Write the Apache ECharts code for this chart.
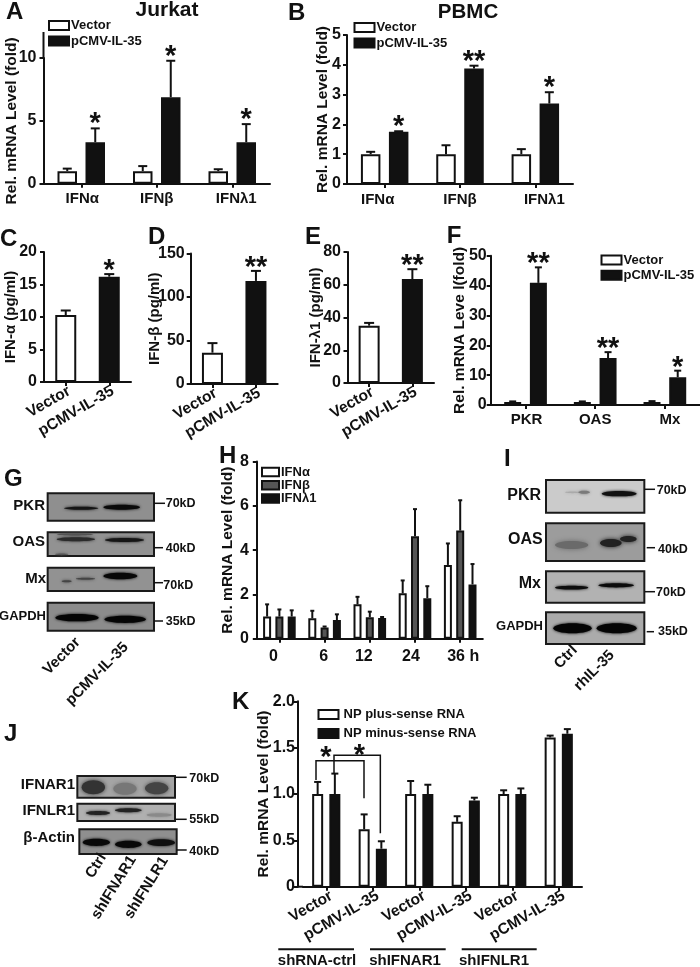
<!DOCTYPE html>
<html><head><meta charset="utf-8">
<style>html,body{margin:0;padding:0;background:#fff}#c{width:700px;height:967px}</style>
<script src="https://cdn.jsdelivr.net/npm/echarts@6/dist/echarts.min.js"></script>
</head><body><div id="c"></div>
<script>
// ---------- DATA ----------
const ifnCats = ['IFNα', 'IFNβ', 'IFNλ1'];
const jurkatVector = [1, 1, 1];
const jurkatVectorErr = [1.2, 1.4, 1.15];
const jurkatIL35 = [3.3, 6.88, 3.3];
const jurkatIL35Err = [4.4, 9.78, 4.74];
const jurkatSig = ['*', '*', '*'];

const pbmcVector = [1, 1, 1];
const pbmcVectorErr = [1.08, 1.3, 1.17];
const pbmcIL35 = [1.75, 3.88, 2.7];
const pbmcIL35Err = [1.77, 3.97, 3.08];
const pbmcSig = ['*', '**', '*'];

const treatCats = ['Vector', 'pCMV-IL-35'];
const ifnAlpha = [10.3, 16.2];
const ifnAlphaErr = [11, 16.6];
const ifnAlphaSig = ['', '*'];
const ifnBeta = [36, 118.5];
const ifnBetaErr = [47, 130];
const ifnBetaSig = ['', '**'];
const ifnLambda = [35, 63.5];
const ifnLambdaErr = [36.7, 69.5];
const ifnLambdaSig = ['', '**'];

const isgCats = ['PKR', 'OAS', 'Mx'];
const isgVector = [1, 1, 1];
const isgVectorErr = [1.2, 1.2, 1.3];
const isgIL35 = [40.9, 15.7, 9.3];
const isgIL35Err = [46.1, 17.7, 11.5];
const isgSig = ['**', '**', '*'];

const hourCats = ['0', '6', '12', '24', '36 h'];
const hourAlpha = [1, 0.92, 1.55, 2.05, 3.33];
const hourAlphaErr = [1.55, 1.26, 1.89, 2.63, 4.3];
const hourBeta = [1, 0.51, 0.97, 4.62, 4.88];
const hourBetaErr = [1.32, 0.55, 1.22, 5.85, 6.25];
const hourLambda = [1, 0.84, 0.93, 1.83, 2.45];
const hourLambdaErr = [1.28, 1.1, 0.98, 2.37, 3.37];

const npCats = ['Vector', 'pCMV-IL-35', 'Vector', 'pCMV-IL-35', 'Vector', 'pCMV-IL-35'];
const npPlus = [1, 0.62, 1, 0.7, 1, 1.61];
const npPlusErr = [1.13, 0.78, 1.14, 0.76, 1.04, 1.63];
const npMinus = [1, 0.41, 1, 0.93, 1, 1.65];
const npMinusErr = [1.22, 0.49, 1.1, 0.96, 1.06, 1.7];

// ---------- BUILDERS ----------
const FONT = '"Liberation Sans", Arial, sans-serif';
const INK = '#111';
const grids = [], xAxes = [], yAxes = [], series = [], legends = [], graphics = [];

function panel(o) {
  const i = grids.length;
  grids.push({ left: o.left, top: o.top, width: o.width, height: o.height, containLabel: false, outerBoundsMode: 'none' });
  const shifts = o.labelShift || [];
  const rich = {};
  o.cats.forEach((c, k) => {
    const s = shifts[k] || 0;
    rich['s' + k] = { fontFamily: FONT, fontWeight: 'bold', fontSize: o.xFont || 15, color: INK,
      padding: s < 0 ? [0, -2 * s, 0, 0] : [0, 0, 0, 2 * s] };
  });
  xAxes.push({
    gridIndex: i, type: 'category', data: o.cats,
    axisLine: { show: true, lineStyle: { color: INK, width: 2 } },
    axisTick: { show: true, alignWithLabel: true, length: 4, lineStyle: { color: INK, width: 2 } },
    axisLabel: { interval: 0, rotate: o.rotate || 0, margin: o.xMargin || 11, color: INK,
      fontFamily: FONT, fontWeight: 'bold', fontSize: o.xFont || 15,
      padding: o.rotate ? [0, -(o.rotPad || 0), 0, 0] : 0,
      formatter: o.rotate ? undefined : (v, k) => '{s' + k + '|' + v + '}', rich: o.rotate ? undefined : rich },
    splitLine: { show: false }
  });
  yAxes.push({
    gridIndex: i, type: 'value', min: 0, max: o.max, interval: o.interval, offset: o.yOffset || 0,
    name: o.name, nameLocation: 'middle', nameGap: o.nameGap, nameRotate: 90, nameMoveOverlap: false,
    nameTextStyle: { color: INK, fontFamily: FONT, fontWeight: 'bold', fontSize: o.nameFont || 15.5 },
    axisLine: { show: true, lineStyle: { color: INK, width: 2 } },
    axisTick: { show: true, length: 4, lineStyle: { color: INK, width: 2 } },
    axisLabel: { margin: o.yMargin, color: INK, fontFamily: FONT, fontWeight: 'bold', fontSize: 16, formatter: o.yFormat },
    splitLine: { show: false }
  });
  return i;
}

function barSet(i, name, values, errs, sigs, color, opt) {
  const idx = opt.index, n = opt.count;
  const offset = (idx - (n - 1) / 2) * opt.pitch;
  series.push({
    type: 'bar', name, xAxisIndex: i, yAxisIndex: i, barWidth: opt.barW,
    barGap: ((opt.pitch - opt.barW) / opt.barW * 100) + '%',
    data: values.map((v, k) => ({
      value: v,
      itemStyle: { color: Array.isArray(color) ? color[k] : color, borderColor: INK, borderWidth: 2 }
    })),
    itemStyle: { color: Array.isArray(color) ? color[0] : color, borderColor: INK, borderWidth: 2 },
    silent: true
  });
  series.push({
    type: 'custom', name: name + ' error', xAxisIndex: i, yAxisIndex: i, silent: true, clip: false, z: 1,
    data: values.map((v, k) => [k, v, errs[k]]),
    renderItem(p, api) {
      const k = api.value(0);
      const x = api.coord([k, 0])[0] + offset;
      const y0 = api.coord([k, api.value(1)])[1];
      const y1 = api.coord([k, api.value(2)])[1];
      const cap = opt.cap / 2;
      const st = { stroke: INK, lineWidth: 2, fill: null };
      const ch = [
        { type: 'line', shape: { x1: x, y1: y0, x2: x, y2: y1 }, style: st },
        { type: 'line', shape: { x1: x - cap, y1: y1, x2: x + cap, y2: y1 }, style: st }
      ];
      const sg = sigs && sigs[p.dataIndex];
      if (sg) ch.push({ type: 'text', style: { text: sg, x, y: y1 - opt.starGap, fill: INK,
        font: 'bold 29px ' + FONT, textAlign: 'center', textVerticalAlign: 'middle' } });
      return { type: 'group', children: ch };
    }
  });
}

function legend(names, left, top, gap, h, w, pad) {
  legends.push({ data: names, orient: 'vertical', left, top, itemWidth: w || 20, itemHeight: h || 9,
    itemGap: gap, icon: 'rect', padding: 0, selectedMode: false,
    textStyle: { color: INK, fontFamily: FONT, fontWeight: 'bold', fontSize: 13, padding: [0, 0, 0, pad === undefined ? -3 : pad] } });
}

function text(t, x, y, size, o) {
  o = o || {};
  graphics.push({ type: 'text', x, y, rotation: o.rot ? o.rot * Math.PI / 180 : 0, z: 20,
    style: { text: t, fill: INK, font: 'bold ' + size + 'px ' + FONT,
      textAlign: o.align || 'left', textVerticalAlign: 'middle' } });
}
function line(pts, w) {
  graphics.push({ type: 'polyline', z: 15, shape: { points: pts },
    style: { stroke: INK, lineWidth: w || 1.5, fill: null } });
}
// Western-blot drawing helpers: coordinates are given in the local 3x sketch space of each blot group.
function blot(ox, oy, zx1, zx2, zy1, zy2, fill) {
  graphics.push({ type: 'rect', z: 5, shape: { x: ox + zx1 / 3, y: oy + zy1 / 3, width: (zx2 - zx1) / 3, height: (zy2 - zy1) / 3 },
    style: { fill, stroke: '#1a1a1a', lineWidth: 2 } });
}
function band(ox, oy, zx1, zx2, zy, zh, col, blur) {
  graphics.push({ type: 'ellipse', z: 6,
    shape: { cx: ox + (zx1 + zx2) / 6, cy: oy + zy / 3, rx: (zx2 - zx1) / 6, ry: zh / 6 },
    style: { fill: col, shadowBlur: blur === undefined ? 3 : blur, shadowColor: col } });
}
function tickLab(t, x1, x2, yl, xt, yt) {
  line([[x1, yl], [x2, yl]], 1.5);
  text(t, xt, yt, 12.5);
}

// ---------- PANELS ----------
// A
let g = panel({ cats: ifnCats, left: 43.5, top: 58, width: 226.5, height: 125.7, max: 10, interval: 5,
  name: 'Rel. mRNA Level (fold)', nameGap: 23.5, yMargin: 7, xMargin: 8, labelShift: [1, 0, 4] });
let oa = { count: 2, pitch: 28, barW: 19.5, cap: 9, starGap: 4 };
barSet(g, 'Vector', jurkatVector, jurkatVectorErr, null, '#fff', { ...oa, index: 0 });
barSet(g, 'pCMV-IL-35', jurkatIL35, jurkatIL35Err, jurkatSig, INK, { ...oa, index: 1 });
legend(['Vector', 'pCMV-IL-35'], 48, 19, 2.5);
line([[43.5, 32], [43.5, 59]], 2);

// B
g = panel({ cats: ifnCats, left: 347, top: 35, width: 226, height: 149, max: 5, interval: 1,
  name: 'Rel. mRNA Level (fold)', nameGap: 16, yMargin: 6, xMargin: 8, labelShift: [-7, 0, 9] });
barSet(g, 'Vector', pbmcVector, pbmcVectorErr, null, '#fff', { ...oa, index: 0 });
barSet(g, 'pCMV-IL-35', pbmcIL35, pbmcIL35Err, pbmcSig, INK, { ...oa, index: 1 });
legend(['Vector', 'pCMV-IL-35'], 353.5, 21, 2.5);

// C, D, E
const two = { index: 0, count: 1, pitch: 0, barW: 21, cap: 10, starGap: 3 };
g = panel({ cats: treatCats, left: 44, top: 252, width: 87, height: 130, max: 20, interval: 5,
  name: 'IFN-α (pg/ml)', nameGap: 25.5, yMargin: 7, rotate: 30, xMargin: 10, nameFont: 15, xFont: 15.5, rotPad: 4 });
barSet(g, 'IFN-α', ifnAlpha, ifnAlphaErr, ifnAlphaSig, ['#fff', INK], two);
g = panel({ cats: treatCats, left: 190.7, top: 253.5, width: 87, height: 130.5, max: 150, interval: 50,
  name: 'IFN-β (pg/ml)', nameGap: 28, yMargin: 6, rotate: 30, xMargin: 10, nameFont: 15, xFont: 15.5, rotPad: 4 });
barSet(g, 'IFN-β', ifnBeta, ifnBetaErr, ifnBetaSig, ['#fff', INK], two);
g = panel({ cats: treatCats, left: 347.5, top: 252, width: 86.5, height: 131, max: 80, interval: 20,
  name: 'IFN-λ1 (pg/ml)', nameGap: 24, yMargin: 6.5, rotate: 30, xMargin: 10, nameFont: 15, xFont: 15.5, rotPad: 4 });
barSet(g, 'IFN-λ1', ifnLambda, ifnLambdaErr, ifnLambdaSig, ['#fff', INK], two);

// F
g = panel({ cats: isgCats, left: 490.7, top: 255.7, width: 209, height: 149.3, max: 50, interval: 10,
  name: 'Rel. mRNA Leve l(fold)', nameGap: 22.7, yMargin: 4, xMargin: 7, labelShift: [1, 0, 5] });
const of = { count: 2, pitch: 25.7, barW: 17, cap: 7, starGap: 3 };
barSet(g, 'Vector', isgVector, isgVectorErr, null, '#fff', { ...of, index: 0 });
barSet(g, 'pCMV-IL-35', isgIL35, isgIL35Err, isgSig, INK, { ...of, index: 1 });
legend(['Vector', 'pCMV-IL-35'], 600.5, 253.5, 2.2);

// H
g = panel({ cats: hourCats, left: 256.8, top: 461.5, width: 226, height: 177.2, max: 8, interval: 2,
  name: 'Rel. mRNA Level (fold)', nameGap: 21, yMargin: 8, labelShift: [-6, -1, -6, -4, 3], xMargin: 10, xFont: 16 });
const oh = { count: 3, pitch: 12.3, barW: 8, cap: 4, starGap: 0 };
barSet(g, 'IFNα', hourAlpha, hourAlphaErr, null, '#fff', { ...oh, index: 0 });
barSet(g, 'IFNβ', hourBeta, hourBetaErr, null, '#555', { ...oh, index: 1 });
barSet(g, 'IFNλ1', hourLambda, hourLambdaErr, null, INK, { ...oh, index: 2 });
legend(['IFNα', 'IFNβ', 'IFNλ1'], 261, 465.5, 0.2, 8.5, 17);

// K
g = panel({ cats: npCats, left: 303, top: 701.3, width: 279, height: 185.4, max: 2, interval: 0.5, yOffset: 5,
  name: 'Rel. mRNA Level (fold)', nameGap: 26, yMargin: 3, rotate: 30, xMargin: 11, xFont: 15.5, rotPad: 6,
  yFormat: v => v === 0 ? '0' : v.toFixed(1) });
const ok = { count: 2, pitch: 17.2, barW: 11, cap: 7, starGap: 0 };
barSet(g, 'NP plus-sense RNA', npPlus, npPlusErr, null, '#fff', { ...ok, index: 0 });
barSet(g, 'NP minus-sense RNA', npMinus, npMinusErr, null, INK, { ...ok, index: 1 });
legend(['NP plus-sense RNA', 'NP minus-sense RNA'], 317.5, 708, 6, 9, 20, 0);
line([[298, 886.7], [303, 886.7]], 2);

// K annotations
const kx = z => 240 + z / 3, ky = z => 690 + z / 3;
line([[kx(228), ky(270)], [kx(228), ky(212)], [kx(372), ky(212)], [kx(372), ky(325)]]);
line([[kx(282), ky(250)], [kx(282), ky(196)], [kx(421), ky(196)], [kx(421), ky(430)]]);
text('*', kx(258), ky(185) + 6, 29, { align: 'center' });
text('*', kx(358), ky(180) + 6, 29, { align: 'center' });
line([[278.3, 949.3], [354, 949.3]], 2);
line([[370, 949.3], [445.7, 949.3]], 2);
line([[461.7, 949.3], [536.7, 949.3]], 2);
text('shRNA-ctrl', 317, 961, 15, { align: 'center' });
text('shIFNAR1', 405, 961, 15, { align: 'center' });
text('shIFNLR1', 494, 961, 15, { align: 'center' });

// Panel letters
[['A', 6, 12], ['B', 288, 13.5], ['C', 0, 239], ['D', 148, 237], ['E', 305, 237], ['F', 446.7, 236],
 ['G', 4, 479.5], ['H', 219, 456], ['I', 504, 459], ['J', 4, 734.5], ['K', 232, 702]]
  .forEach(l => text(l[0], l[1], l[2], 24));

// ---------- BLOTS ----------
// G
const G = [0, 450];
blot(...G, 143, 462, 130, 212, '#8f8f8f');
blot(...G, 143, 462, 247, 318, '#929292');
blot(...G, 143, 462, 353, 423, '#929292');
blot(...G, 143, 462, 458, 542, '#8c8c8c');
band(...G, 192, 295, 175, 9, '#151515');
band(...G, 310, 420, 172, 15, '#0a0a0a');
band(...G, 170, 280, 253, 7, '#555');
band(...G, 170, 285, 268, 12, '#2a2a2a');
band(...G, 315, 432, 270, 12, '#151515');
band(...G, 165, 205, 313, 5, '#555');
band(...G, 185, 215, 394, 6, '#444');
band(...G, 228, 285, 386, 6, '#444');
band(...G, 310, 412, 378, 20, '#080808');
band(...G, 166, 296, 503, 22, '#050505');
band(...G, 313, 438, 508, 22, '#050505');
text('PKR', 45, 505.7, 15, { align: 'right' });
text('OAS', 45, 542, 15, { align: 'right' });
text('Mx', 46, 579, 15, { align: 'right' });
text('GAPDH', 46, 616, 13, { align: 'right' });
tickLab('70kD', 154, 165, 503.3, 165.7, 504);
tickLab('40kD', 154, 163, 547.7, 165.7, 549);
tickLab('70kD', 154, 163, 582.7, 163.3, 586);
tickLab('35kD', 154, 163, 621, 165.7, 622);
text('Vector', 78, 640, 15, { align: 'right', rot: 45 });
text('pCMV-IL-35', 126, 645, 15, { align: 'right', rot: 45 });

// I
const I = [480, 450];
blot(...I, 198, 493, 90, 188, '#cbcbcb');
blot(...I, 198, 493, 220, 333, '#9c9c9c');
blot(...I, 198, 493, 364, 458, '#b2b2b2');
blot(...I, 198, 493, 487, 582, '#ababab');
band(...I, 255, 300, 127, 5, '#aaa');
band(...I, 295, 330, 127, 9, '#7a7a7a');
band(...I, 365, 470, 131, 16, '#111');
band(...I, 225, 325, 285, 24, '#6a6a6a', 5);
band(...I, 360, 425, 279, 24, '#222', 4);
band(...I, 420, 470, 267, 18, '#222', 4);
band(...I, 225, 325, 413, 11, '#0d0d0d');
band(...I, 355, 462, 406, 13, '#0a0a0a');
band(...I, 220, 335, 535, 30, '#050505');
band(...I, 350, 470, 535, 30, '#050505');
text('PKR', 541, 496, 16, { align: 'right' });
text('OAS', 542.7, 540, 16, { align: 'right' });
text('Mx', 541, 584, 16, { align: 'right' });
text('GAPDH', 543, 626.7, 13, { align: 'right' });
tickLab('70kD', 644.3, 655, 489.3, 656.7, 491);
tickLab('40kD', 646.7, 655, 547.7, 658, 550);
tickLab('70kD', 645, 655, 591.7, 656, 593);
tickLab('35kD', 646.7, 654, 631.7, 658, 631.7);
text('Ctrl', 575, 648, 15, { align: 'right', rot: 45 });
text('rhIL-35', 612, 653, 15, { align: 'right', rot: 45 });

// J
const J = [0, 700];
blot(...J, 232, 525, 228, 293, '#a5a5a5');
blot(...J, 232, 525, 311, 363, '#b0b0b0');
blot(...J, 238, 530, 388, 462, '#8f8f8f');
band(...J, 245, 315, 262, 42, '#333', 4);
band(...J, 340, 410, 266, 36, '#777', 4);
band(...J, 435, 505, 265, 36, '#444', 4);
band(...J, 258, 330, 339, 12, '#222');
band(...J, 345, 425, 331, 12, '#222');
band(...J, 440, 515, 345, 10, '#8a8a8a');
band(...J, 248, 330, 427, 22, '#080808');
band(...J, 345, 425, 433, 22, '#080808');
band(...J, 442, 525, 428, 20, '#0f0f0f');
text('IFNAR1', 75, 785, 15, { align: 'right' });
text('IFNLR1', 75, 811, 15, { align: 'right' });
text('β-Actin', 75, 838.3, 15, { align: 'right' });
tickLab('70kD', 175, 186.7, 777.3, 189.3, 779);
tickLab('55kD', 175, 186.7, 819.3, 189.3, 820);
tickLab('40kD', 176.7, 186.7, 850, 189.3, 851.7);
text('Ctrl', 103, 855, 15, { align: 'right', rot: 58 });
text('shIFNAR1', 133, 857, 15, { align: 'right', rot: 58 });
text('shIFNLR1', 165, 858, 15, { align: 'right', rot: 58 });

// ---------- CHART ----------
const chart = echarts.init(document.getElementById('c'), null, { renderer: 'canvas' });
chart.setOption({
  animation: false,
  backgroundColor: '#fff',
  title: [
    { text: 'Jurkat', left: 162, top: -5, textAlign: 'center', textStyle: { color: INK, fontFamily: FONT, fontWeight: 'bold', fontSize: 21 } },
    { text: 'PBMC', left: 463, top: -3, textAlign: 'center', textStyle: { color: INK, fontFamily: FONT, fontWeight: 'bold', fontSize: 20.5 } }
  ],
  legend: legends, grid: grids, xAxis: xAxes, yAxis: yAxes, series,
  graphic: { elements: graphics }
});
</script></body></html>
